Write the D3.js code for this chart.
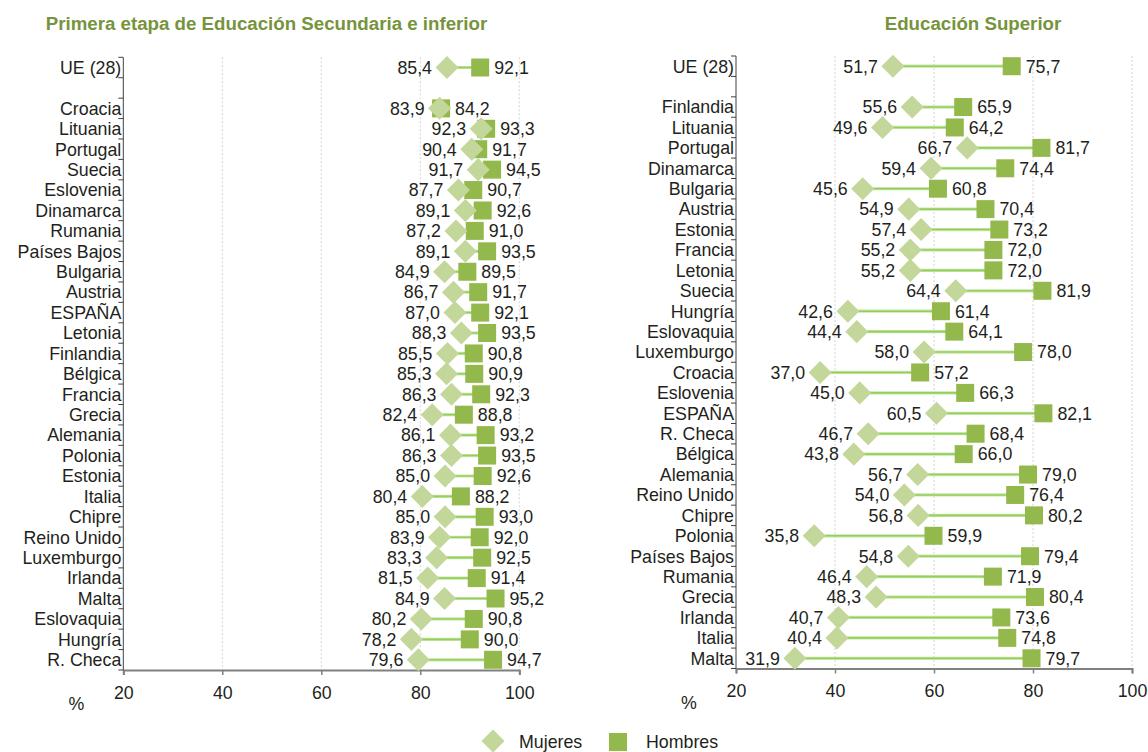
<!DOCTYPE html>
<html>
<head>
<meta charset="utf-8">
<script src="https://cdn.jsdelivr.net/npm/d3@7"></script>
<style>
  html, body { margin: 0; padding: 0; background: #fff; }
  svg { display: block; font-family: "Liberation Sans", Arial, sans-serif; }
</style>
</head>
<body>
<svg id="chart" width="1148" height="752"></svg>
<script>
// ---------- DATA ----------
const titleLow = "Primera etapa de Educación Secundaria e inferior";
const titleHigh = "Educación Superior";

const categoriesLow = ["UE (28)", "Croacia", "Lituania", "Portugal", "Suecia", "Eslovenia", "Dinamarca", "Rumania", "Países Bajos", "Bulgaria", "Austria", "ESPAÑA", "Letonia", "Finlandia", "Bélgica", "Francia", "Grecia", "Alemania", "Polonia", "Estonia", "Italia", "Chipre", "Reino Unido", "Luxemburgo", "Irlanda", "Malta", "Eslovaquia", "Hungría", "R. Checa"];
const mujeresLow = [85.4, 83.9, 92.3, 90.4, 91.7, 87.7, 89.1, 87.2, 89.1, 84.9, 86.7, 87.0, 88.3, 85.5, 85.3, 86.3, 82.4, 86.1, 86.3, 85.0, 80.4, 85.0, 83.9, 83.3, 81.5, 84.9, 80.2, 78.2, 79.6];
const hombresLow = [92.1, 84.2, 93.3, 91.7, 94.5, 90.7, 92.6, 91.0, 93.5, 89.5, 91.7, 92.1, 93.5, 90.8, 90.9, 92.3, 88.8, 93.2, 93.5, 92.6, 88.2, 93.0, 92.0, 92.5, 91.4, 95.2, 90.8, 90.0, 94.7];

const categoriesHigh = ["UE (28)", "Finlandia", "Lituania", "Portugal", "Dinamarca", "Bulgaria", "Austria", "Estonia", "Francia", "Letonia", "Suecia", "Hungría", "Eslovaquia", "Luxemburgo", "Croacia", "Eslovenia", "ESPAÑA", "R. Checa", "Bélgica", "Alemania", "Reino Unido", "Chipre", "Polonia", "Países Bajos", "Rumania", "Grecia", "Irlanda", "Italia", "Malta"];
const mujeresHigh = [51.7, 55.6, 49.6, 66.7, 59.4, 45.6, 54.9, 57.4, 55.2, 55.2, 64.4, 42.6, 44.4, 58.0, 37.0, 45.0, 60.5, 46.7, 43.8, 56.7, 54.0, 56.8, 35.8, 54.8, 46.4, 48.3, 40.7, 40.4, 31.9];
const hombresHigh = [75.7, 65.9, 64.2, 81.7, 74.4, 60.8, 70.4, 73.2, 72.0, 72.0, 81.9, 61.4, 64.1, 78.0, 57.2, 66.3, 82.1, 68.4, 66.0, 79.0, 76.4, 80.2, 59.9, 79.4, 71.9, 80.4, 73.6, 74.8, 79.7];

const xTicks = [20, 40, 60, 80, 100];
const xDomain = [20, 100];
const unitLabel = "%";
const legendLabels = ["Mujeres", "Hombres"];

// ---------- STYLE ----------
const C = {
  title: "#77933c",
  diamond: "#c4d79b",
  square: "#93b84c",
  line: "#93d05a",
  lineHi: "#c8e6a8",
  text: "#231f20",
  grid: "#d4d4d4",
  axis: "#808080",
  yaxis: "#404040"
};
const FS = 17.8;

const svg = d3.select("#chart");
const fmt = v => d3.format(".1f")(v).replace(".", ",");
const diamondPath = d3.symbol().type(d3.symbolSquare).size(265)();
const squarePath = d3.symbol().type(d3.symbolSquare).size(324)();

function drawPanel(opt) {
  const { cats, muj, hom, x0, x1, yTop, yBot, title, titleX, titleSize } = opt;
  const slots = [cats[0], "__gap__", ...cats.slice(1)];
  const x = d3.scaleLinear().domain(xDomain).range([x0, x1]);
  const y = d3.scaleBand().domain(slots).range([yTop, yBot]).padding(0);
  const g = svg.append("g");

  // title
  g.append("text").attr("x", titleX).attr("y", 30)
    .attr("text-anchor", "middle").attr("font-weight", "bold")
    .attr("font-size", titleSize).attr("fill", C.title).text(title);

  // grid lines
  g.selectAll(".grid").data(xTicks.filter(t => t !== xDomain[0])).join("line")
    .attr("x1", d => x(d)).attr("x2", d => x(d))
    .attr("y1", yTop).attr("y2", yBot)
    .attr("stroke", C.grid).attr("stroke-width", 1).attr("stroke-dasharray", "2,2");

  // x axis
  const xa = g.append("g").attr("transform", `translate(0,${yBot})`)
    .call(d3.axisBottom(x).tickValues(xTicks).tickSize(5).tickPadding(11).tickFormat(d3.format("d")));
  xa.select(".domain").attr("stroke", C.axis).attr("stroke-width", 2);
  xa.selectAll(".tick line").attr("stroke", C.axis).attr("stroke-width", 1.5);
  xa.selectAll(".tick text").attr("font-size", FS).attr("fill", C.text)
    .attr("font-family", "Liberation Sans, Arial, sans-serif");

  g.append("text").attr("x", x0 - 47).attr("y", yBot + 40)
    .attr("text-anchor", "middle").attr("font-size", FS).attr("fill", C.text).text(unitLabel);

  // y axis
  const boundaries = slots.map(s => y(s)).concat([yBot]);
  g.append("line").attr("x1", x0).attr("x2", x0).attr("y1", yTop).attr("y2", yBot)
    .attr("stroke", C.yaxis).attr("stroke-width", 1);
  g.selectAll(".ytick").data(boundaries).join("line")
    .attr("x1", x0 - 5).attr("x2", x0).attr("y1", d => d).attr("y2", d => d)
    .attr("stroke", C.yaxis).attr("stroke-width", 1);

  const rows = cats.map((c, i) => ({ c, m: muj[i], h: hom[i], yc: y(c) + y.bandwidth() / 2 }));

  g.selectAll(".cat").data(rows).join("text")
    .attr("x", x0 - 2).attr("y", d => d.yc + 6.3)
    .attr("text-anchor", "end").attr("font-size", FS).attr("fill", C.text)
    .text(d => d.c);

  // connecting lines
  g.selectAll(".lnk").data(rows).join("line")
    .attr("x1", d => x(d.m)).attr("x2", d => x(d.h))
    .attr("y1", d => d.yc).attr("y2", d => d.yc)
    .attr("stroke", C.lineHi).attr("stroke-width", 3.2);
  g.selectAll(".lnk2").data(rows).join("line")
    .attr("x1", d => x(d.m)).attr("x2", d => x(d.h))
    .attr("y1", d => d.yc).attr("y2", d => d.yc)
    .attr("stroke", C.line).attr("stroke-width", 1.6);

  // squares (Hombres)
  g.selectAll(".sq").data(rows).join("path")
    .attr("d", squarePath)
    .attr("transform", d => `translate(${x(d.h)},${d.yc})`)
    .attr("fill", C.square);

  // diamonds (Mujeres)
  g.selectAll(".dm").data(rows).join("path")
    .attr("d", diamondPath)
    .attr("transform", d => `translate(${x(d.m)},${d.yc}) rotate(45)`)
    .attr("fill", C.diamond);

  // value labels
  g.selectAll(".lm").data(rows).join("text")
    .attr("x", d => x(d.m) - 15).attr("y", d => d.yc + 6.3)
    .attr("text-anchor", "end").attr("font-size", FS).attr("fill", C.text)
    .text(d => fmt(d.m));
  g.selectAll(".lh").data(rows).join("text")
    .attr("x", d => x(d.h) + 14).attr("y", d => d.yc + 6.3)
    .attr("text-anchor", "start").attr("font-size", FS).attr("fill", C.text)
    .text(d => fmt(d.h));
}

drawPanel({ cats: categoriesLow, muj: mujeresLow, hom: hombresLow,
  x0: 123.3, x1: 519.3, yTop: 57.3, yBot: 670, title: titleLow, titleX: 266.5, titleSize: 18.7 });
drawPanel({ cats: categoriesHigh, muj: mujeresHigh, hom: hombresHigh,
  x0: 736, x1: 1132, yTop: 56, yBot: 668.5, title: titleHigh, titleX: 973, titleSize: 18.7 });

// legend
const lg = svg.append("g");
lg.append("path").attr("d", diamondPath).attr("transform", "translate(493,741) rotate(45)").attr("fill", C.diamond);
lg.append("text").attr("x", 519).attr("y", 748).attr("font-size", FS).attr("fill", C.text).text(legendLabels[0]);
lg.append("path").attr("d", squarePath).attr("transform", "translate(618,742)").attr("fill", C.square);
lg.append("text").attr("x", 646).attr("y", 748).attr("font-size", FS).attr("fill", C.text).text(legendLabels[1]);
</script>
</body>
</html>
